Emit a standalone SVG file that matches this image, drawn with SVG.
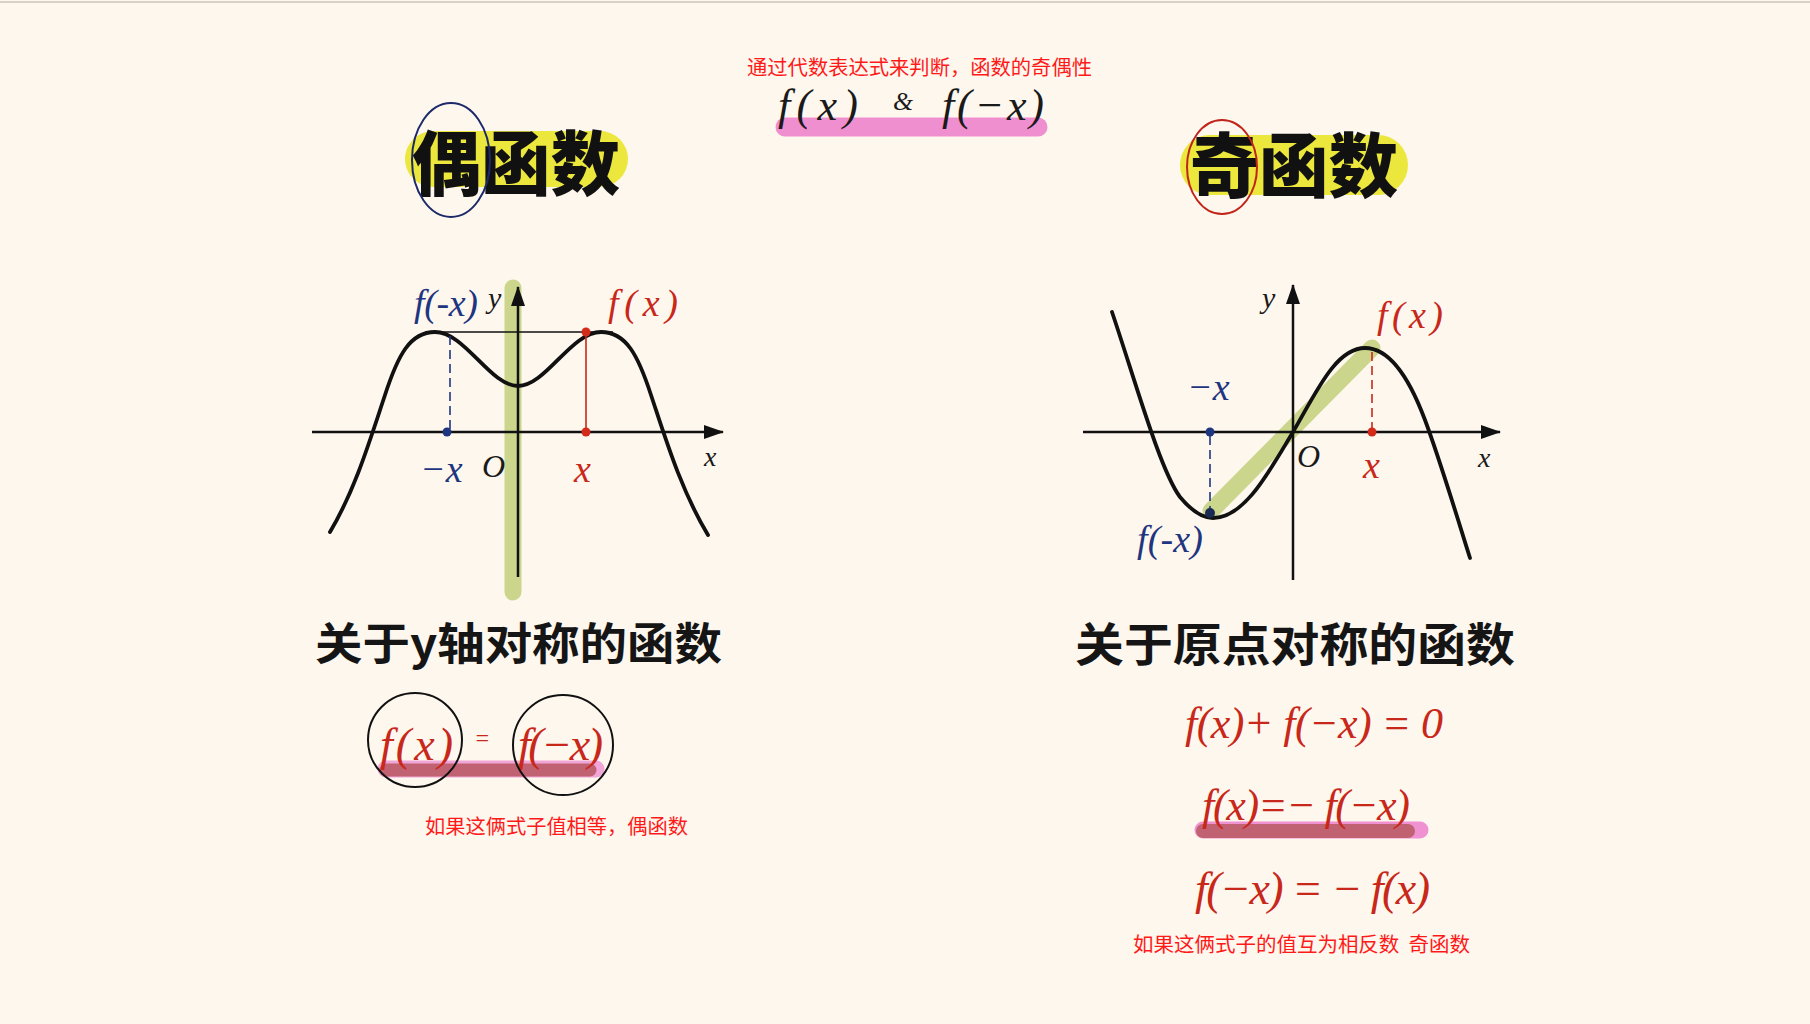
<svg xmlns="http://www.w3.org/2000/svg" width="1810" height="1024" viewBox="0 0 1810 1024">
<defs>
<marker id="arrow" viewBox="0 0 20 14" refX="19" refY="7" markerWidth="20" markerHeight="14" markerUnits="userSpaceOnUse" orient="auto">
<path d="M0,0 L20,7 L0,14 z" fill="#111"/>
</marker>
</defs>
<style>
.math{font-family:"Liberation Serif","DejaVu Serif",serif;font-style:italic}
.title{font-family:"Noto Sans CJK SC",sans-serif;font-weight:900;font-size:70px;fill:#111}
.cap{font-family:"Noto Sans CJK SC",sans-serif;font-weight:700;fill:#151515}
.note{font-family:"Noto Sans CJK SC",sans-serif;font-size:20px;fill:#ff1a1a;white-space:pre}
.red{fill:#c8281a}
.blue{fill:#1e3580}
.blk{fill:#1a1a1a}
.axis{stroke:#111;stroke-width:2.5;fill:none}
.curve{stroke:#111;stroke-width:3.8;fill:none;stroke-linecap:round}
.green{stroke:#cbd68c;stroke-linecap:round;fill:none}
.pink{stroke:#ef8fcf;stroke-linecap:round;fill:none}
.rose{stroke:#c06272;stroke-linecap:round;fill:none}
</style>
<rect x="0" y="0" width="1810" height="1024" fill="#fef7ee"/>
<line x1="0" y1="2" x2="1810" y2="2" stroke="#d6d2ca" stroke-width="2"/>

<g id="top-note">
<text class="note" x="747" y="75" textLength="345" lengthAdjust="spacingAndGlyphs">通过代数表达式来判断，函数的奇偶性</text>
</g>
<g id="top-expr">
<line class="pink" x1="785" y1="127" x2="1038" y2="127" stroke-width="19"/>
<text class="math blk" x="778" y="120" font-size="44" textLength="80" lengthAdjust="spacing">f(x)</text>
<text class="math blk" x="893" y="110" font-size="26">&amp;</text>
<text class="math blk" x="942" y="120" font-size="44" textLength="102" lengthAdjust="spacing">f(−x)</text>
</g>

<g id="title-even">
<rect x="405" y="131" width="223" height="56" rx="28" fill="#ebe73c"/>
<text class="title" x="412" y="190" textLength="208" lengthAdjust="spacingAndGlyphs">偶函数</text>
<ellipse cx="451" cy="160" rx="39" ry="57" fill="none" stroke="#1c2a6a" stroke-width="2"/>
</g>
<g id="title-odd">
<rect x="1180" y="135" width="228" height="60" rx="30" fill="#ebe73c"/>
<text class="title" x="1190" y="192" textLength="208" lengthAdjust="spacingAndGlyphs">奇函数</text>
<ellipse cx="1222" cy="167" rx="35" ry="47" fill="none" stroke="#c0251a" stroke-width="2"/>
</g>

<g id="graph-even">
<line class="green" x1="513" y1="288" x2="513" y2="592" stroke-width="17"/>
<line class="axis" x1="312" y1="432" x2="723" y2="432" marker-end="url(#arrow)"/>
<line class="axis" x1="518" y1="577" x2="518" y2="287" marker-end="url(#arrow)"/>
<line x1="425" y1="332" x2="613" y2="332" stroke="#111" stroke-width="1.6"/>
<path class="curve" d="M330,532 C355,490 370,440 385,395 C398,355 410,332 435,332 C465,332 490,386 518,386 C546,386 571,332 601,332 C626,332 638,355 651,395 C666,440 681,490 708,535"/>
<line x1="450" y1="336" x2="450" y2="430" stroke="#1e3580" stroke-width="1.6" stroke-dasharray="9 5"/>
<line x1="586" y1="334" x2="586" y2="432" stroke="#c8281a" stroke-width="1.6"/>
<circle cx="447" cy="432" r="4.5" fill="#1e3580"/>
<circle cx="586" cy="432" r="4.5" fill="#d42a1a"/>
<circle cx="586" cy="332" r="4.5" fill="#d42a1a"/>
<text class="math blue" x="414" y="316" font-size="38" textLength="64" lengthAdjust="spacing">f(-x)</text>
<text class="math blk" x="488" y="308" font-size="30">y</text>
<text class="math red" x="608" y="316" font-size="38" textLength="70" lengthAdjust="spacing">f(x)</text>
<text class="math blk" x="482" y="477" font-size="32">O</text>
<text class="math blue" x="420" y="482" font-size="38">−x</text>
<text class="math red" x="574" y="482" font-size="38">x</text>
<text class="math blk" x="704" y="466" font-size="28">x</text>
</g>

<g id="graph-odd">
<line class="green" x1="1211" y1="511" x2="1372" y2="348" stroke-width="17"/>
<line class="axis" x1="1083" y1="432" x2="1500" y2="432" marker-end="url(#arrow)"/>
<line class="axis" x1="1293" y1="580" x2="1293" y2="285" marker-end="url(#arrow)"/>
<path class="curve" d="M1112,312 C1135,380 1160,470 1180,497 C1195,515 1205,518 1213,518 C1245,518 1270,470 1293,432 C1315,395 1335,348 1365,348 C1390,348 1410,380 1425,420 C1440,460 1458,520 1470,558"/>
<line x1="1210" y1="436" x2="1210" y2="513" stroke="#1e3580" stroke-width="1.6" stroke-dasharray="9 5"/>
<line x1="1372" y1="352" x2="1372" y2="430" stroke="#c8281a" stroke-width="1.6" stroke-dasharray="9 5"/>
<circle cx="1210" cy="432" r="4.5" fill="#1e3580"/>
<circle cx="1210" cy="513" r="5" fill="#1a2a55"/>
<circle cx="1372" cy="432" r="4.5" fill="#d42a1a"/>
<text class="math blk" x="1262" y="308" font-size="30">y</text>
<text class="math red" x="1377" y="328" font-size="38" textLength="66" lengthAdjust="spacing">f(x)</text>
<text class="math blue" x="1187" y="400" font-size="38">−x</text>
<text class="math blue" x="1137" y="552" font-size="38" textLength="66" lengthAdjust="spacing">f(-x)</text>
<text class="math blk" x="1297" y="467" font-size="32">O</text>
<text class="math red" x="1363" y="478" font-size="38">x</text>
<text class="math blk" x="1478" y="467" font-size="28">x</text>
</g>

<g id="caption-even">
<text class="cap" x="315" y="660" font-size="44" textLength="407" lengthAdjust="spacingAndGlyphs">关于y轴对称的函数</text>
</g>
<g id="caption-odd">
<text class="cap" x="1075" y="661" font-size="46" textLength="440" lengthAdjust="spacingAndGlyphs">关于原点对称的函数</text>
</g>

<g id="even-formula">
<line x1="386" y1="769" x2="596" y2="769" stroke="#f0a6d6" stroke-width="17" stroke-linecap="round"/>
<line class="rose" x1="386" y1="770" x2="590" y2="770" stroke-width="13"/>
<text class="math red" x="380" y="760" font-size="46" textLength="73" lengthAdjust="spacing">f(x)</text>
<text class="math red" x="474" y="746" font-size="24">=</text>
<text class="math red" x="518" y="760" font-size="46" textLength="85" lengthAdjust="spacing">f(−x)</text>
<circle cx="415" cy="740" r="47" fill="none" stroke="#111" stroke-width="2"/>
<circle cx="563" cy="745" r="50" fill="none" stroke="#111" stroke-width="2"/>
</g>
<g id="even-note">
<text class="note" x="425" y="834" textLength="263" lengthAdjust="spacingAndGlyphs">如果这俩式子值相等，偶函数</text>
</g>

<g id="odd-formulas">
<text class="math red" x="1185" y="738" font-size="44" textLength="258" lengthAdjust="spacing">f(x)+ f(−x) = 0</text>
<line x1="1203" y1="830" x2="1420" y2="830" stroke="#f092d2" stroke-width="17" stroke-linecap="round"/>
<line class="rose" x1="1203" y1="831" x2="1408" y2="831" stroke-width="14"/>
<text class="math red" x="1202" y="820" font-size="44" textLength="208" lengthAdjust="spacing">f(x)=− f(−x)</text>
<text class="math red" x="1195" y="904" font-size="46" textLength="235" lengthAdjust="spacing">f(−x) = − f(x)</text>
</g>
<g id="odd-note">
<text class="note" x="1133" y="952" textLength="337" lengthAdjust="spacingAndGlyphs" xml:space="preserve">如果这俩式子的值互为相反数  奇函数</text>
</g>
</svg>
